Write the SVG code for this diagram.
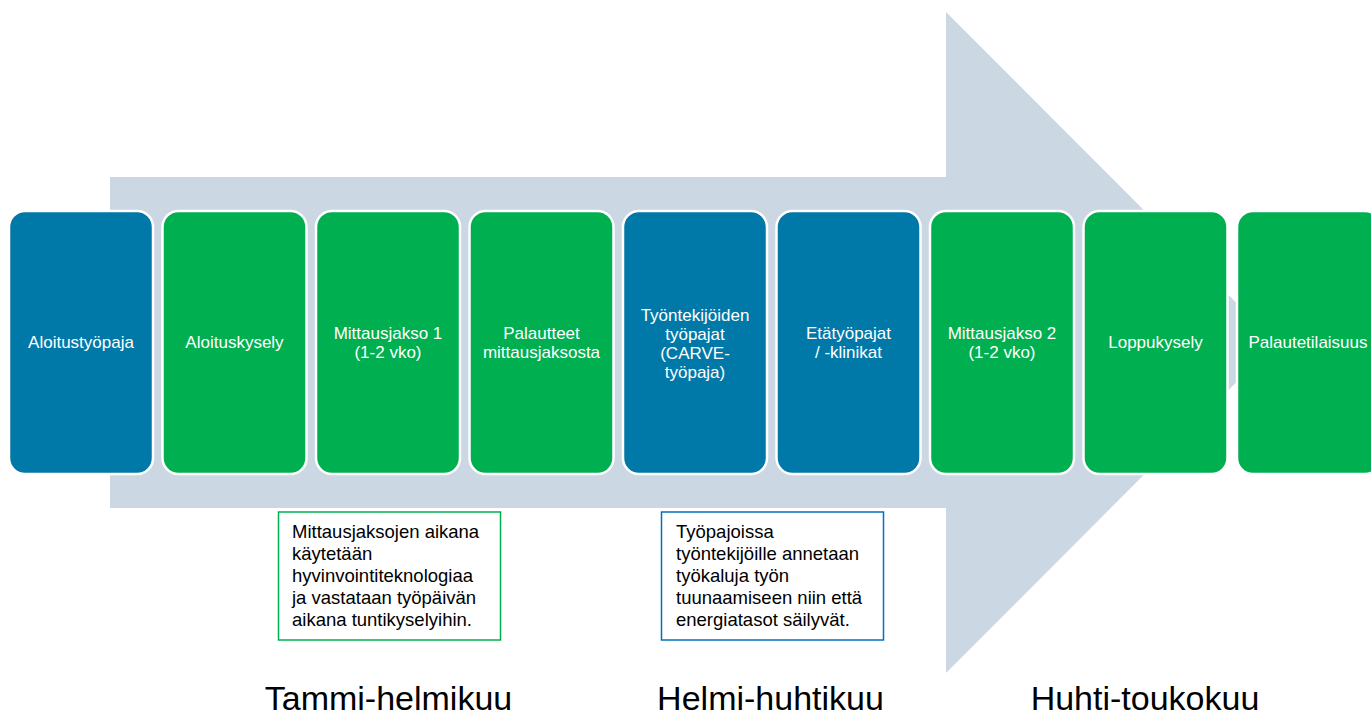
<svg xmlns="http://www.w3.org/2000/svg" width="1371" height="717" viewBox="0 0 1371 717">
<style>
.box{stroke:#ffffff;stroke-width:2.5}
.blue{fill:#0079A9}
.green{fill:#00AF50}
.bt{font-family:"Liberation Sans",Arial,sans-serif;font-size:17px;fill:#ffffff;text-anchor:middle}
.ct{font-family:"Liberation Sans",Arial,sans-serif;font-size:18.5px;fill:#000000}
.lbl{font-family:"Liberation Sans",Arial,sans-serif;font-size:34px;fill:#000000;text-anchor:middle}
</style>
<rect width="1371" height="717" fill="#ffffff"/>
<g id="arrow">
<polygon points="110,177 946,177 946,12 1276,342.5 946,673 946,508 110,508" fill="#CBD7E3"/>
</g>
<g id="n1"><rect class="box blue" x="9" y="211" width="144" height="263" rx="16"/><text class="bt" x="81" y="348">Aloitustyöpaja</text></g>
<g id="n2"><rect class="box green" x="162.5" y="211" width="144" height="263" rx="16"/><text class="bt" x="234.5" y="348">Aloituskysely</text></g>
<g id="n3"><rect class="box green" x="316" y="211" width="144" height="263" rx="16"/><text class="bt" x="388" y="338.5">Mittausjakso 1</text><text class="bt" x="388" y="357.5">(1-2 vko)</text></g>
<g id="n4"><rect class="box green" x="469.5" y="211" width="144" height="263" rx="16"/><text class="bt" x="541.5" y="338.5">Palautteet</text><text class="bt" x="541.5" y="357.5">mittausjaksosta</text></g>
<g id="n5"><rect class="box blue" x="623" y="211" width="144" height="263" rx="16"/><text class="bt" x="695" y="321">Työntekijöiden</text><text class="bt" x="695" y="340">työpajat</text><text class="bt" x="695" y="359">(CARVE-</text><text class="bt" x="695" y="378">työpaja)</text></g>
<g id="n6"><rect class="box blue" x="776.5" y="211" width="144" height="263" rx="16"/><text class="bt" x="848.5" y="338.5">Etätyöpajat</text><text class="bt" x="848.5" y="357.5">/ -klinikat</text></g>
<g id="n7"><rect class="box green" x="930" y="211" width="144" height="263" rx="16"/><text class="bt" x="1002" y="338.5">Mittausjakso 2</text><text class="bt" x="1002" y="357.5">(1-2 vko)</text></g>
<g id="n8"><rect class="box green" x="1083.5" y="211" width="144" height="263" rx="16"/><text class="bt" x="1155.5" y="348">Loppukysely</text></g>
<g id="n9"><rect class="box green" x="1237" y="211" width="144" height="263" rx="16"/><text class="bt" x="1308" y="348">Palautetilaisuus</text></g>
<g id="note1">
<rect x="278.5" y="512" width="222" height="128" fill="#ffffff" stroke="#00B050" stroke-width="1.5"/>
<text class="ct" x="292" y="537.5">Mittausjaksojen aikana</text>
<text class="ct" x="292" y="559.5">käytetään</text>
<text class="ct" x="292" y="581.5">hyvinvointiteknologiaa</text>
<text class="ct" x="292" y="603.5">ja vastataan työpäivän</text>
<text class="ct" x="292" y="625.5">aikana tuntikyselyihin.</text>
</g>
<g id="note2">
<rect x="661.5" y="512" width="222" height="128" fill="#ffffff" stroke="#0070C0" stroke-width="1.5"/>
<text class="ct" x="676" y="537.5">Työpajoissa</text>
<text class="ct" x="676" y="559.5">työntekijöille annetaan</text>
<text class="ct" x="676" y="581.5">työkaluja työn</text>
<text class="ct" x="676" y="603.5">tuunaamiseen niin että</text>
<text class="ct" x="676" y="625.5">energiatasot säilyvät.</text>
</g>
<g id="labels">
<text class="lbl" x="388.5" y="709.5">Tammi-helmikuu</text>
<text class="lbl" x="770.5" y="709.5">Helmi-huhtikuu</text>
<text class="lbl" x="1145" y="709.5">Huhti-toukokuu</text>
</g>
<g id="connectors"></g>
</svg>
